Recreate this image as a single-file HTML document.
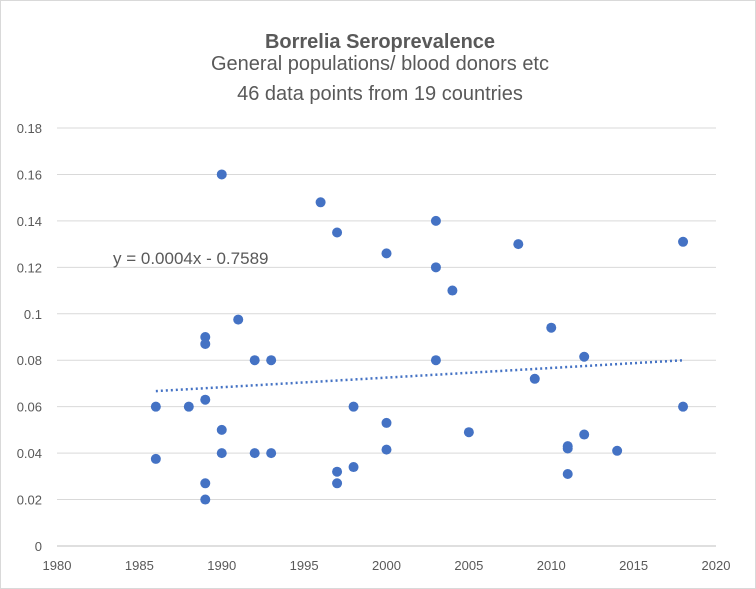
<!DOCTYPE html>
<html><head><meta charset="utf-8"><style>
body{margin:0;background:#fff;}
svg{display:block;font-family:"Liberation Sans",sans-serif;}
</style></head><body>
<svg id="chart" width="756" height="589">
<rect x="0.5" y="0.5" width="755" height="588" fill="#fff" stroke="#d9d9d9"/>
<text x="380" y="48" text-anchor="middle" font-size="20" font-weight="bold" fill="#595959">Borrelia Seroprevalence</text>
<text x="380" y="70" text-anchor="middle" font-size="20" fill="#595959">General populations/ blood donors etc</text>
<text x="380" y="100" text-anchor="middle" font-size="20" fill="#595959">46 data points from 19 countries</text>
<g id="grid"></g><g id="axes"></g><g id="trend"></g><g id="points"></g>
<text x="113" y="264" font-size="17" fill="#595959">y = 0.0004x - 0.7589</text>
</svg>
<script>
const years=[1986,1986,1988,1989,1989,1989,1989,1989,1990,1990,1990,1991,1992,1992,1993,1993,1996,1997,1997,1997,1998,1998,2000,2000,2000,2003,2003,2003,2004,2005,2008,2009,2010,2011,2011,2011,2012,2012,2014,2018,2018];
const values=[0.06,0.0375,0.06,0.09,0.087,0.063,0.027,0.02,0.16,0.05,0.04,0.0975,0.08,0.04,0.08,0.04,0.148,0.135,0.032,0.027,0.06,0.034,0.126,0.053,0.0415,0.14,0.12,0.08,0.11,0.049,0.13,0.072,0.094,0.043,0.042,0.031,0.0815,0.048,0.041,0.131,0.06];
const xTicks=[1980,1985,1990,1995,2000,2005,2010,2015,2020];
const yTicks=[0,0.02,0.04,0.06,0.08,0.1,0.12,0.14,0.16,0.18];
const yLabels=["0","0.02","0.04","0.06","0.08","0.1","0.12","0.14","0.16","0.18"];
const NS="http://www.w3.org/2000/svg";
const X0=57,X1=716,Y0=546,Y1=128;
const sx=v=>X0+(v-1980)/40*(X1-X0);
const sy=v=>Y0-v/0.18*(Y0-Y1);
function mk(tag,attrs,parent){const e=document.createElementNS(NS,tag);for(const k in attrs)e.setAttribute(k,attrs[k]);document.getElementById(parent).appendChild(e);return e;}
yTicks.forEach((t,i)=>{
 const l=mk('line',{x1:X0,x2:X1,y1:sy(t),y2:sy(t),stroke:i===0?'#bfbfbf':'#d9d9d9'},'grid');
 
 
 const tx=mk('text',{x:X0-15,y:sy(t)+5,'text-anchor':'end','font-size':13,fill:'#595959'},'axes');
 tx.textContent=yLabels[i];
 
 
});
xTicks.forEach(t=>{
 const tx=mk('text',{x:sx(t),y:Y0+24,'text-anchor':'middle','font-size':13,fill:'#595959'},'axes');
 tx.textContent=t;
 
 
});
// regression
const n=years.length;let mx=0,my=0;years.forEach((x,i)=>{mx+=x;my+=values[i];});mx/=n;my/=n;
let sxy=0,sxx=0;years.forEach((x,i)=>{sxy+=(x-mx)*(values[i]-my);sxx+=(x-mx)*(x-mx);});
const b=sxy/sxx,a=my-b*mx;const xa=Math.min(...years),xb=Math.max(...years);
const tl=mk('line',{x1:sx(xa),y1:sy(a+b*xa),x2:sx(xb),y2:sy(a+b*xb),stroke:'#4472c4','stroke-width':2.5,'stroke-dasharray':'2 3'},'trend');


years.forEach((x,i)=>{
 const c=mk('circle',{cx:sx(x),cy:sy(values[i]),r:5,fill:'#4472c4'},'points');
 
 
});
</script>
</body></html>
